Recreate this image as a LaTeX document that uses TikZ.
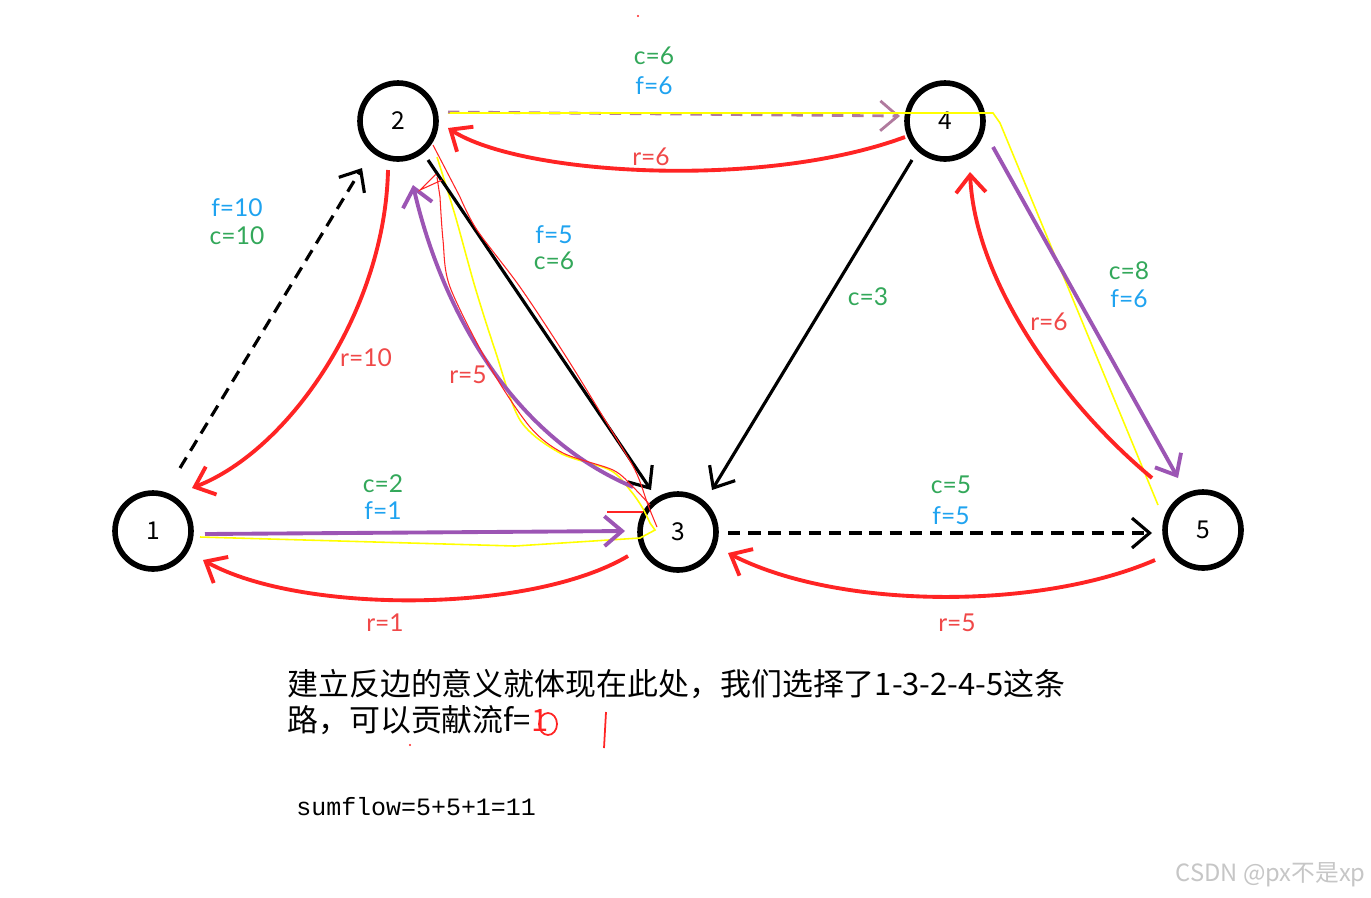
\documentclass[tikz,border=0pt]{standalone}
\usepackage{fontspec}
\setmainfont{Lato}
\newfontfamily\cjk{Noto Sans CJK SC}
\newfontfamily\monof{Liberation Mono}
\usetikzlibrary{arrows.meta}
\definecolor{cgreen}{HTML}{33A85A}
\definecolor{cblue}{HTML}{1FA3F0}
\definecolor{lred}{HTML}{F04848}
\definecolor{ered}{HTML}{FF2424}
\definecolor{epurple}{HTML}{9C55B4}
\definecolor{dpurple}{HTML}{B07A9E}
\definecolor{eyellow}{HTML}{FFFF00}
\begin{document}
\begin{tikzpicture}[x=0.02cm,y=-0.02cm,
  vert/.style={circle,draw,line width=3.2pt,minimum size=1.52cm,inner sep=0pt,font=\cjk\fontsize{14}{14}\selectfont},
  barb/.style={-{Straight Barb[length=10pt,width=17pt]}},
  blkedge/.style={barb,line width=1.8pt,black},
  blkdash/.style={blkedge,dash pattern=on 7pt off 4.5pt},
  redge/.style={barb,line width=2.2pt,ered},
  pedge/.style={barb,line width=2.2pt,epurple},
  yel/.style={line width=0.9pt,eyellow},
  thinred/.style={line width=0.6pt,ered},
  lab/.style={inner sep=0pt,font=\fontsize{14}{14}\selectfont},
  glab/.style={lab,text=cgreen},
  blab/.style={lab,text=cblue},
  rlab/.style={lab,text=lred}]
\useasboundingbox[fill=white] (0,0) rectangle (1371,897);

% vertices
\node[vert] (n1) at (153,531) {1};
\node[vert] (n2) at (398,121) {2};
\node[vert] (n3) at (678,532) {3};
\node[vert] (n4) at (945,121) {4};
\node[vert] (n5) at (1203,530) {5};

% yellow highlight of path 1-3-2-4-5
\draw[yel] ([shift={(47,6)}]n1.center) -- (515,546) -- (640,538) -- (655,530)
   -- plot[smooth] coordinates {(650,523) (642,507) (630,490) (610,470) (560,453) (520,420) (495,350) (475,287) (455,215) (437,157)};
\draw[yel] ([shift={(50,-8)}]n2.center) -- (993,113) -- (1000,123) -- ([shift={(-45,-25)}]n5.center);

% edge 1 -> 2 (dashed) and residual 2 -> 1
\draw[blkdash] ([shift={(27,-63)}]n1.center) -- ([shift={(-36,47)}]n2.center);
\draw[redge] ([shift={(-10,49)}]n2.center) .. controls +(-3,140) and +(98,-38) .. ([shift={(39,-43)}]n1.center);

% edge 1 -> 3 and residual 3 -> 1
\draw[pedge] ([shift={(52,3)}]n1.center) -- ([shift={(-53,-1)}]n3.center);
\draw[redge] ([shift={(-50,24)}]n3.center) .. controls +(-98,58) and +(97,54) .. ([shift={(50,29)}]n1.center);

% edge 2 -> 3 and residual 3 -> 2
\draw[blkedge] ([shift={(30,39)}]n2.center) -- ([shift={(-27,-42)}]n3.center);
\draw[pedge] ([shift={(-45,-45)}]n3.center) .. controls +(-130,-55) and +(25,110) .. ([shift={(15,64)}]n2.center);
\draw[thinred] ([shift={(35,24)}]n2.center) -- plot[smooth] coordinates {(460,197) (477,230) (520,287) (565,355) (605,420) (635,470) (648,505) (657,527)};
\draw[thinred] ([shift={(39,56)}]n2.center) -- plot[smooth] coordinates {(440,197) (443,240) (450,287) (490,367) (530,427) (563,453) (613,470) (633,487) (650,505)};
\draw[thinred] (442,180) -- (420,190) -- (436,174);
\draw[thinred,line width=0.9pt] (607,512) -- (643,512);

% edge 2 -> 4 and residual 4 -> 2
\draw[barb,line width=1.6pt,dpurple,dash pattern=on 6.5pt off 5pt] ([shift={(50,-9)}]n2.center) -- ([shift={(-45,-5)}]n4.center);
\draw[yel] (450,113) -- (990,113);
\draw[redge] ([shift={(-40,16)}]n4.center) .. controls +(-143,53) and +(72,47) .. ([shift={(50,7)}]n2.center);

% edge 4 -> 3
\draw[blkedge] ([shift={(-33,39)}]n4.center) -- ([shift={(34,-42)}]n3.center);

% edge 4 -> 5 and residual 5 -> 4
\draw[pedge] ([shift={(48,26)}]n4.center) -- ([shift={(-25,-52)}]n5.center);
\draw[redge] ([shift={(-51,-52)}]n5.center) .. controls +(-90,-75) and +(5,110) .. ([shift={(25,51)}]n4.center);

% edge 3 -> 5 and residual 5 -> 3
\draw[blkdash] ([shift={(50,1)}]n3.center) -- ([shift={(-51,3)}]n5.center);
\draw[redge] ([shift={(-48,30)}]n5.center) .. controls +(-115,50) and +(111,57) .. ([shift={(50,21)}]n3.center);

% labels
\node[glab] (l24c) at (654,56) {c=6};
\node[blab] (l24f) at (654,86) {f=6};
\node[rlab] (l42r) at (651,157) {r=6};
\node[blab] (l12f) at (237,208) {f=10};
\node[glab] (l12c) at (237,236) {c=10};
\node[blab] (l23f) at (554,235) {f=5};
\node[glab] (l23c) at (554,261) {c=6};
\node[rlab] (l21r) at (366,358) {r=10};
\node[rlab] (l32r) at (468,375) {r=5};
\node[glab] (l43c) at (868,297) {c=3};
\node[glab] (l45c) at (1129,271) {c=8};
\node[blab] (l45f) at (1129,299) {f=6};
\node[rlab] (l54r) at (1049,322) {r=6};
\node[glab] (l13c) at (383,484) {c=2};
\node[blab] (l13f) at (383,511) {f=1};
\node[glab] (l35c) at (951,485) {c=5};
\node[blab] (l35f) at (951,516) {f=5};
\node[rlab] (l31r) at (385,623) {r=1};
\node[rlab] (l53r) at (957,623) {r=5};

% text below
\node[anchor=west,inner sep=0pt,font=\cjk\fontsize{17.6}{17.6}\selectfont] (t1) at (287,684) {建立反边的意义就体现在此处，我们选择了1-3-2-4-5这条};
\node[anchor=west,inner sep=0pt,font=\cjk\fontsize{17.6}{17.6}\selectfont] (t2) at (287,720) {路，可以贡献流f=\textcolor{ered}{1}};
\draw[ered,line width=1pt] (548,724) ellipse (9 and 11);
\draw[ered,line width=1pt] (606,712) -- (604,748);
\fill[ered] (638,16) circle (1.2);
\fill[ered] (410,745) circle (1.2);
\node[anchor=west,inner sep=0pt,font=\monof\fontsize{14.2}{14.2}\selectfont] (t3) at (296,807) {sumflow=5+5+1=11};
\node[anchor=east,inner sep=0pt,text=gray!45,font=\cjk\fontsize{13.5}{13.5}\selectfont] (wm) at (1366,875) {CSDN @px不是xp};
\end{tikzpicture}
\end{document}
